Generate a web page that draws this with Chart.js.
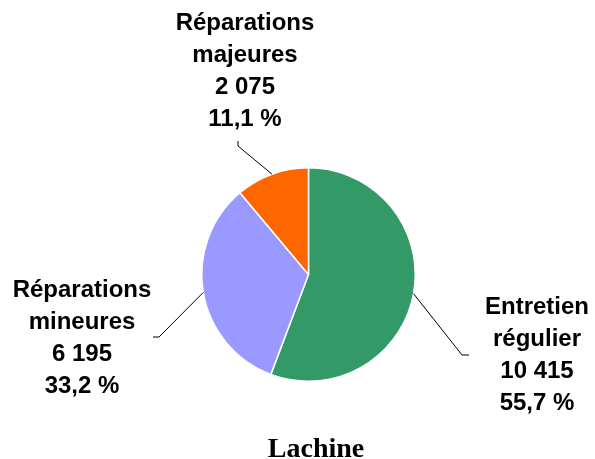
<!DOCTYPE html>
<html>
<head>
<meta charset="utf-8">
<script src="https://cdn.jsdelivr.net/npm/chart.js@4.4.1/dist/chart.umd.min.js"></script>
<style>
  html, body { margin: 0; padding: 0; background: #fff; }
  #wrap { width: 595px; height: 459px; position: relative; }
</style>
</head>
<body>
<div id="wrap"><canvas id="pie"></canvas></div>
<script>
// data
const categories = ['Entretien régulier', 'Réparations mineures', 'Réparations majeures'];
const labelLines = [['Entretien', 'régulier'], ['Réparations', 'mineures'], ['Réparations', 'majeures']];
const counts = [10415, 6195, 2075];
const percents = [55.7, 33.2, 11.1];
const colors = ['#339966', '#9999ff', '#ff6600'];
const title = 'Lachine';

// label placement: elbow of leader, end of leader, text centre x, first line y
const labelLayout = [
    { elbow: [462, 355], end: [469, 355], tx: 537, ty: 307 },
    { elbow: [159, 337], end: [153, 337], tx: 82, ty: 290 },
    { elbow: [238, 146], end: [238, 141], tx: 245, ty: 23 }
];

const fmt = n => n.toLocaleString('fr-FR').replace(/\s/g, ' ');
const fmtPct = p => p.toFixed(1).replace('.', ',') + ' %';

const labelPlugin = {
    id: 'pieLabels',
    afterDraw(chart) {
        const ctx = chart.ctx;
        const meta = chart.getDatasetMeta(0);
        ctx.save();
        meta.data.forEach((arc, i) => {
            const mid = (arc.startAngle + arc.endAngle) / 2;
            const sx = arc.x + Math.cos(mid) * arc.outerRadius;
            const sy = arc.y + Math.sin(mid) * arc.outerRadius;
            const L = labelLayout[i];
            ctx.strokeStyle = '#000';
            ctx.lineWidth = 1;
            ctx.beginPath();
            ctx.moveTo(sx, sy);
            ctx.lineTo(L.elbow[0], L.elbow[1]);
            ctx.lineTo(L.end[0], L.end[1]);
            ctx.stroke();

            const lines = [...labelLines[i], fmt(counts[i]), fmtPct(percents[i])];
            ctx.fillStyle = '#000';
            ctx.font = 'bold 24px "Liberation Sans", Arial, sans-serif';
            ctx.textAlign = 'center';
            ctx.textBaseline = 'middle';
            lines.forEach((t, k) => ctx.fillText(t, L.tx, L.ty + k * 32));
        });
        ctx.font = 'bold 28px "Liberation Serif", "Times New Roman", serif';
        ctx.textAlign = 'center';
        ctx.textBaseline = 'alphabetic';
        ctx.fillText(title, 316, 457);
        ctx.restore();
    }
};

new Chart(document.getElementById('pie'), {
    type: 'pie',
    data: {
        labels: categories,
        datasets: [{
            data: counts,
            backgroundColor: colors,
            borderColor: '#ffffff',
            borderWidth: 1.5
        }]
    },
    options: {
        responsive: true,
        maintainAspectRatio: false,
        animation: false,
        layout: { padding: { top: 167, bottom: 77, left: 201, right: 179 } },
        plugins: {
            legend: { display: false },
            tooltip: { enabled: false }
        }
    },
    plugins: [labelPlugin]
});
</script>
</body>
</html>
